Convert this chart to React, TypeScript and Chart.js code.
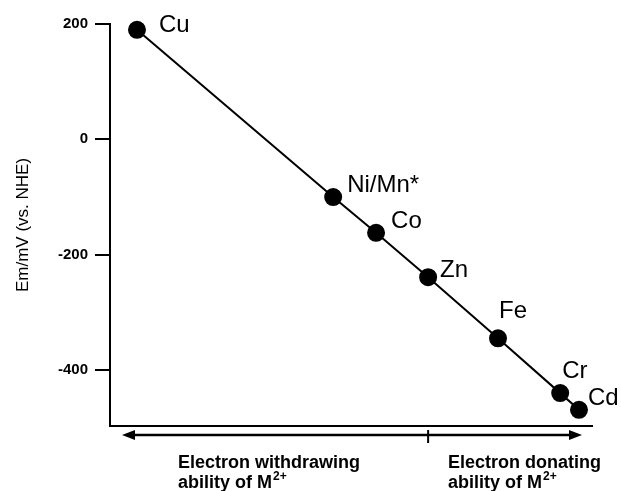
import React, { useEffect, useRef } from 'react';
import { Chart, registerables } from 'chart.js';

Chart.register(...registerables);

// ---- data ----
const metals = ['Cu', 'Ni/Mn*', 'Co', 'Zn', 'Fe', 'Cr', 'Cd'];
const xPositions = [5.6, 46.3, 55.2, 66.0, 80.5, 93.4, 97.3];
const emValues = [190, -100, -162, -239, -345, -440, -469];
const yTicks = [200, 0, -200, -400];
const yTitle = 'Em/mV (vs. NHE)';
const leftCaption = ['Electron withdrawing', 'ability of M'];
const rightCaption = ['Electron donating', 'ability of M'];
const chargeSup = '2+';

// ---- style ----
const FONT = "'Liberation Sans', Arial, sans-serif";
const labelOffsets: [number, number][] = [
  [22, 2], [14, -5], [15, -5], [12, 0], [1, -20], [2, -15], [9, -5],
];

const annotPlugin = {
  id: 'annot',
  afterDatasetsDraw(chart: any) {
    const ctx = chart.ctx;
    const meta = chart.getDatasetMeta(0);
    ctx.save();
    ctx.fillStyle = '#000';
    ctx.font = `24px ${FONT}`;
    ctx.textBaseline = 'alphabetic';
    ctx.textAlign = 'left';
    meta.data.forEach((pt: any, i: number) => {
      const [dx, dy] = labelOffsets[i];
      ctx.fillText(metals[i], pt.x + dx, pt.y + dy);
    });

    // bottom arrows
    const { left, right, bottom } = chart.chartArea;
    const ay = bottom + 9;
    const x1 = left + 12;
    const x2 = right - 10;
    ctx.strokeStyle = '#000';
    ctx.lineWidth = 2.5;
    ctx.beginPath();
    ctx.moveTo(x1 + 8, ay);
    ctx.lineTo(x2 - 8, ay);
    ctx.stroke();
    ctx.beginPath();
    ctx.moveTo(x1, ay);
    ctx.lineTo(x1 + 13, ay - 5);
    ctx.lineTo(x1 + 13, ay + 5);
    ctx.closePath();
    ctx.fill();
    ctx.beginPath();
    ctx.moveTo(x2, ay);
    ctx.lineTo(x2 - 13, ay - 5);
    ctx.lineTo(x2 - 13, ay + 5);
    ctx.closePath();
    ctx.fill();
    // divider at Zn position
    const xs = chart.scales.x;
    const dvx = xs.getPixelForValue(xPositions[3]);
    ctx.lineWidth = 2;
    ctx.beginPath();
    ctx.moveTo(dvx, ay - 5);
    ctx.lineTo(dvx, ay + 8);
    ctx.stroke();

    // captions
    const drawCaption = (lines: string[], x: number) => {
      ctx.font = `bold 18px ${FONT}`;
      ctx.fillText(lines[0], x, bottom + 42);
      ctx.fillText(lines[1], x, bottom + 62);
      const w = ctx.measureText(lines[1]).width;
      ctx.font = `bold 12px ${FONT}`;
      ctx.fillText(chargeSup, x + w + 1, bottom + 54);
    };
    drawCaption(leftCaption, 178);
    drawCaption(rightCaption, 448);
    ctx.restore();
  },
};

export default function App() {
  const ref = useRef<HTMLCanvasElement>(null);
  useEffect(() => {
    if (!ref.current) return;
    const chart = new Chart(ref.current, {
      type: 'scatter',
      data: {
        datasets: [
          {
            data: xPositions.map((x, i) => ({ x, y: emValues[i] })),
            showLine: true,
            clip: false,
            borderColor: '#000',
            borderWidth: 2,
            backgroundColor: '#000',
            pointBackgroundColor: '#000',
            pointBorderColor: '#000',
            pointRadius: 8,
            pointHoverRadius: 8,
          },
        ],
      },
      options: {
        responsive: false,
        animation: false,
        events: [],
        layout: { padding: { top: 24, right: 29, left: 0, bottom: 0 } },
        plugins: {
          legend: { display: false },
          tooltip: { enabled: false },
        },
        scales: {
          x: {
            type: 'linear',
            min: 0,
            max: 100,
            grid: { display: false },
            border: { display: true, color: '#000', width: 2 },
            ticks: { display: false },
            afterFit: (s: any) => {
              s.height = 65;
            },
          },
          y: {
            type: 'linear',
            min: -497,
            max: 200,
            afterBuildTicks: (s: any) => {
              s.ticks = yTicks.map((v) => ({ value: v }));
            },
            afterFit: (s: any) => {
              s.width = 110;
            },
            grid: {
              drawOnChartArea: false,
              drawTicks: true,
              tickLength: 15,
              color: '#000',
              lineWidth: 2,
            },
            border: { display: true, color: '#000', width: 2 },
            ticks: {
              color: '#000',
              padding: 7,
              font: { family: FONT, size: 15, weight: 'bold' },
              callback: (v: any) => String(v),
            },
            title: {
              display: true,
              text: yTitle,
              color: '#000',
              font: { family: FONT, size: 17 },
              padding: { top: 13, bottom: 0 },
            },
          },
        },
      },
      plugins: [annotPlugin],
    } as any);
    return () => chart.destroy();
  }, []);
  return (
    <div style={{ position: 'fixed', left: 0, top: 0, width: 621, height: 491, background: '#fff' }}>
      <canvas ref={ref} width={621} height={491} style={{ width: 621, height: 491, display: 'block' }} />
    </div>
  );
}
